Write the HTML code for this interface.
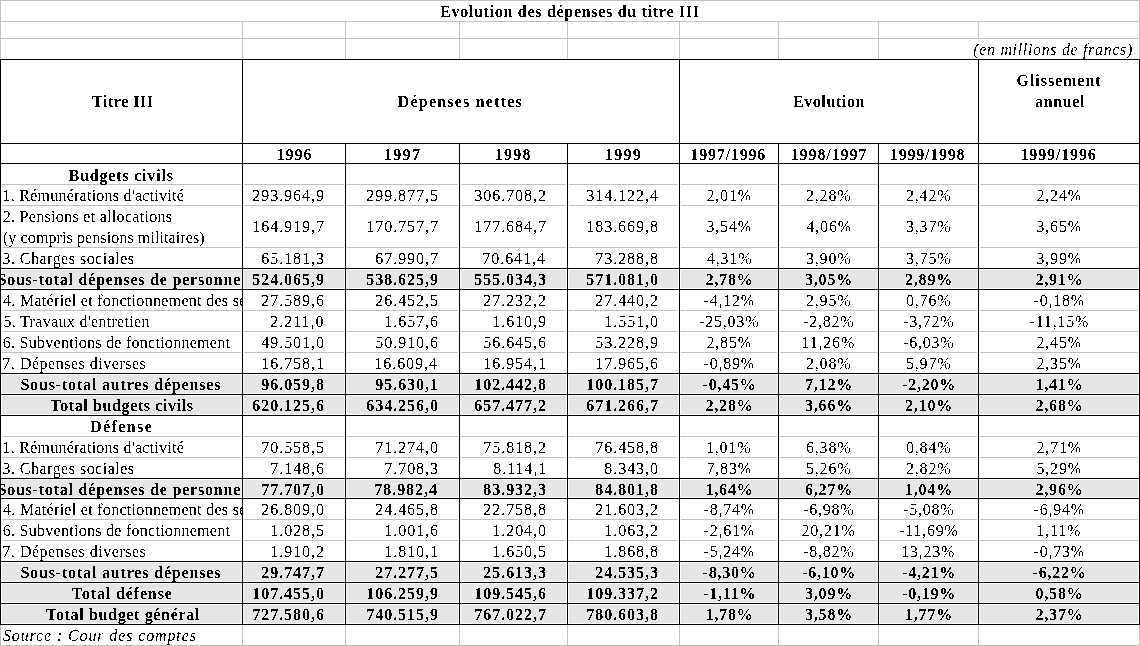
<!DOCTYPE html>
<html><head><meta charset="utf-8"><style>
html,body{margin:0;padding:0;background:#fff;width:1140px;height:646px;overflow:hidden;position:relative}
i{position:absolute;display:block}
.clip{position:absolute;height:20px;overflow:hidden}
.t{position:absolute;display:block;white-space:pre;font-family:"Liberation Serif",serif;font-size:16px;line-height:20px;font-weight:normal;color:#000}
.b{font-weight:bold}
.it{font-style:italic}
.tx{position:absolute;left:0;top:0;width:1140px;height:646px}
</style></head><body>
<svg width="0" height="0" style="position:absolute"><filter id="fr" x="0" y="0" width="100%" height="100%" color-interpolation-filters="sRGB"><feComponentTransfer><feFuncA type="discrete" tableValues="0 1"/></feComponentTransfer></filter><filter id="fb" x="0" y="0" width="100%" height="100%" color-interpolation-filters="sRGB"><feComponentTransfer><feFuncA type="discrete" tableValues="0 1"/></feComponentTransfer></filter></svg>
<i style="left:2px;top:270px;width:239px;height:18px;background:#e6e6e6"></i>
<i style="left:244px;top:270px;width:100px;height:18px;background:#e6e6e6"></i>
<i style="left:347px;top:270px;width:111px;height:18px;background:#e6e6e6"></i>
<i style="left:461px;top:270px;width:105px;height:18px;background:#e6e6e6"></i>
<i style="left:569px;top:270px;width:109px;height:18px;background:#e6e6e6"></i>
<i style="left:681px;top:270px;width:96px;height:18px;background:#e6e6e6"></i>
<i style="left:780px;top:270px;width:97px;height:18px;background:#e6e6e6"></i>
<i style="left:880px;top:270px;width:97px;height:18px;background:#e6e6e6"></i>
<i style="left:980px;top:270px;width:158px;height:18px;background:#e6e6e6"></i>
<i style="left:2px;top:375px;width:239px;height:18px;background:#e6e6e6"></i>
<i style="left:244px;top:375px;width:100px;height:18px;background:#e6e6e6"></i>
<i style="left:347px;top:375px;width:111px;height:18px;background:#e6e6e6"></i>
<i style="left:461px;top:375px;width:105px;height:18px;background:#e6e6e6"></i>
<i style="left:569px;top:375px;width:109px;height:18px;background:#e6e6e6"></i>
<i style="left:681px;top:375px;width:96px;height:18px;background:#e6e6e6"></i>
<i style="left:780px;top:375px;width:97px;height:18px;background:#e6e6e6"></i>
<i style="left:880px;top:375px;width:97px;height:18px;background:#e6e6e6"></i>
<i style="left:980px;top:375px;width:158px;height:18px;background:#e6e6e6"></i>
<i style="left:2px;top:396px;width:239px;height:18px;background:#e6e6e6"></i>
<i style="left:244px;top:396px;width:100px;height:18px;background:#e6e6e6"></i>
<i style="left:347px;top:396px;width:111px;height:18px;background:#e6e6e6"></i>
<i style="left:461px;top:396px;width:105px;height:18px;background:#e6e6e6"></i>
<i style="left:569px;top:396px;width:109px;height:18px;background:#e6e6e6"></i>
<i style="left:681px;top:396px;width:96px;height:18px;background:#e6e6e6"></i>
<i style="left:780px;top:396px;width:97px;height:18px;background:#e6e6e6"></i>
<i style="left:880px;top:396px;width:97px;height:18px;background:#e6e6e6"></i>
<i style="left:980px;top:396px;width:158px;height:18px;background:#e6e6e6"></i>
<i style="left:2px;top:480px;width:239px;height:17px;background:#e6e6e6"></i>
<i style="left:244px;top:480px;width:100px;height:17px;background:#e6e6e6"></i>
<i style="left:347px;top:480px;width:111px;height:17px;background:#e6e6e6"></i>
<i style="left:461px;top:480px;width:105px;height:17px;background:#e6e6e6"></i>
<i style="left:569px;top:480px;width:109px;height:17px;background:#e6e6e6"></i>
<i style="left:681px;top:480px;width:96px;height:17px;background:#e6e6e6"></i>
<i style="left:780px;top:480px;width:97px;height:17px;background:#e6e6e6"></i>
<i style="left:880px;top:480px;width:97px;height:17px;background:#e6e6e6"></i>
<i style="left:980px;top:480px;width:158px;height:17px;background:#e6e6e6"></i>
<i style="left:2px;top:563px;width:239px;height:18px;background:#e6e6e6"></i>
<i style="left:244px;top:563px;width:100px;height:18px;background:#e6e6e6"></i>
<i style="left:347px;top:563px;width:111px;height:18px;background:#e6e6e6"></i>
<i style="left:461px;top:563px;width:105px;height:18px;background:#e6e6e6"></i>
<i style="left:569px;top:563px;width:109px;height:18px;background:#e6e6e6"></i>
<i style="left:681px;top:563px;width:96px;height:18px;background:#e6e6e6"></i>
<i style="left:780px;top:563px;width:97px;height:18px;background:#e6e6e6"></i>
<i style="left:880px;top:563px;width:97px;height:18px;background:#e6e6e6"></i>
<i style="left:980px;top:563px;width:158px;height:18px;background:#e6e6e6"></i>
<i style="left:2px;top:584px;width:239px;height:18px;background:#e6e6e6"></i>
<i style="left:244px;top:584px;width:100px;height:18px;background:#e6e6e6"></i>
<i style="left:347px;top:584px;width:111px;height:18px;background:#e6e6e6"></i>
<i style="left:461px;top:584px;width:105px;height:18px;background:#e6e6e6"></i>
<i style="left:569px;top:584px;width:109px;height:18px;background:#e6e6e6"></i>
<i style="left:681px;top:584px;width:96px;height:18px;background:#e6e6e6"></i>
<i style="left:780px;top:584px;width:97px;height:18px;background:#e6e6e6"></i>
<i style="left:880px;top:584px;width:97px;height:18px;background:#e6e6e6"></i>
<i style="left:980px;top:584px;width:158px;height:18px;background:#e6e6e6"></i>
<i style="left:2px;top:605px;width:239px;height:18px;background:#e6e6e6"></i>
<i style="left:244px;top:605px;width:100px;height:18px;background:#e6e6e6"></i>
<i style="left:347px;top:605px;width:111px;height:18px;background:#e6e6e6"></i>
<i style="left:461px;top:605px;width:105px;height:18px;background:#e6e6e6"></i>
<i style="left:569px;top:605px;width:109px;height:18px;background:#e6e6e6"></i>
<i style="left:681px;top:605px;width:96px;height:18px;background:#e6e6e6"></i>
<i style="left:780px;top:605px;width:97px;height:18px;background:#e6e6e6"></i>
<i style="left:880px;top:605px;width:97px;height:18px;background:#e6e6e6"></i>
<i style="left:980px;top:605px;width:158px;height:18px;background:#e6e6e6"></i>
<i style="left:0px;top:0px;width:1140px;height:1px;background:#c0c0c0"></i>
<i style="left:0px;top:21px;width:1140px;height:1px;background:#c0c0c0"></i>
<i style="left:0px;top:38px;width:1140px;height:1px;background:#c0c0c0"></i>
<i style="left:0px;top:645px;width:1140px;height:1px;background:#c0c0c0"></i>
<i style="left:0px;top:0px;width:1px;height:59px;background:#c0c0c0"></i>
<i style="left:1139px;top:0px;width:1px;height:59px;background:#c0c0c0"></i>
<i style="left:0px;top:624px;width:1px;height:22px;background:#c0c0c0"></i>
<i style="left:1139px;top:624px;width:1px;height:22px;background:#c0c0c0"></i>
<i style="left:242px;top:21px;width:1px;height:17px;background:#c0c0c0"></i>
<i style="left:242px;top:38px;width:1px;height:21px;background:#c0c0c0"></i>
<i style="left:242px;top:624px;width:1px;height:22px;background:#c0c0c0"></i>
<i style="left:345px;top:21px;width:1px;height:17px;background:#c0c0c0"></i>
<i style="left:345px;top:38px;width:1px;height:21px;background:#c0c0c0"></i>
<i style="left:345px;top:624px;width:1px;height:22px;background:#c0c0c0"></i>
<i style="left:459px;top:21px;width:1px;height:17px;background:#c0c0c0"></i>
<i style="left:459px;top:38px;width:1px;height:21px;background:#c0c0c0"></i>
<i style="left:459px;top:624px;width:1px;height:22px;background:#c0c0c0"></i>
<i style="left:567px;top:21px;width:1px;height:17px;background:#c0c0c0"></i>
<i style="left:567px;top:38px;width:1px;height:21px;background:#c0c0c0"></i>
<i style="left:567px;top:624px;width:1px;height:22px;background:#c0c0c0"></i>
<i style="left:679px;top:21px;width:1px;height:17px;background:#c0c0c0"></i>
<i style="left:679px;top:38px;width:1px;height:21px;background:#c0c0c0"></i>
<i style="left:679px;top:624px;width:1px;height:22px;background:#c0c0c0"></i>
<i style="left:778px;top:21px;width:1px;height:17px;background:#c0c0c0"></i>
<i style="left:778px;top:38px;width:1px;height:21px;background:#c0c0c0"></i>
<i style="left:778px;top:624px;width:1px;height:22px;background:#c0c0c0"></i>
<i style="left:878px;top:21px;width:1px;height:17px;background:#c0c0c0"></i>
<i style="left:878px;top:38px;width:1px;height:21px;background:#c0c0c0"></i>
<i style="left:878px;top:624px;width:1px;height:22px;background:#c0c0c0"></i>
<i style="left:978px;top:21px;width:1px;height:17px;background:#c0c0c0"></i>
<i style="left:978px;top:624px;width:1px;height:22px;background:#c0c0c0"></i>
<i style="left:0px;top:59px;width:1140px;height:1px;background:#000"></i>
<i style="left:0px;top:143px;width:1140px;height:1px;background:#000"></i>
<i style="left:0px;top:163px;width:1140px;height:1px;background:#000"></i>
<i style="left:2px;top:184px;width:239px;height:1px;background:#c0c0c0"></i>
<i style="left:244px;top:184px;width:100px;height:1px;background:#c0c0c0"></i>
<i style="left:347px;top:184px;width:111px;height:1px;background:#c0c0c0"></i>
<i style="left:461px;top:184px;width:105px;height:1px;background:#c0c0c0"></i>
<i style="left:569px;top:184px;width:109px;height:1px;background:#c0c0c0"></i>
<i style="left:681px;top:184px;width:96px;height:1px;background:#c0c0c0"></i>
<i style="left:780px;top:184px;width:97px;height:1px;background:#c0c0c0"></i>
<i style="left:880px;top:184px;width:97px;height:1px;background:#c0c0c0"></i>
<i style="left:980px;top:184px;width:158px;height:1px;background:#c0c0c0"></i>
<i style="left:2px;top:205px;width:239px;height:1px;background:#c0c0c0"></i>
<i style="left:244px;top:205px;width:100px;height:1px;background:#c0c0c0"></i>
<i style="left:347px;top:205px;width:111px;height:1px;background:#c0c0c0"></i>
<i style="left:461px;top:205px;width:105px;height:1px;background:#c0c0c0"></i>
<i style="left:569px;top:205px;width:109px;height:1px;background:#c0c0c0"></i>
<i style="left:681px;top:205px;width:96px;height:1px;background:#c0c0c0"></i>
<i style="left:780px;top:205px;width:97px;height:1px;background:#c0c0c0"></i>
<i style="left:880px;top:205px;width:97px;height:1px;background:#c0c0c0"></i>
<i style="left:980px;top:205px;width:158px;height:1px;background:#c0c0c0"></i>
<i style="left:2px;top:247px;width:239px;height:1px;background:#c0c0c0"></i>
<i style="left:244px;top:247px;width:100px;height:1px;background:#c0c0c0"></i>
<i style="left:347px;top:247px;width:111px;height:1px;background:#c0c0c0"></i>
<i style="left:461px;top:247px;width:105px;height:1px;background:#c0c0c0"></i>
<i style="left:569px;top:247px;width:109px;height:1px;background:#c0c0c0"></i>
<i style="left:681px;top:247px;width:96px;height:1px;background:#c0c0c0"></i>
<i style="left:780px;top:247px;width:97px;height:1px;background:#c0c0c0"></i>
<i style="left:880px;top:247px;width:97px;height:1px;background:#c0c0c0"></i>
<i style="left:980px;top:247px;width:158px;height:1px;background:#c0c0c0"></i>
<i style="left:0px;top:268px;width:1140px;height:1px;background:#000"></i>
<i style="left:0px;top:289px;width:1140px;height:1px;background:#000"></i>
<i style="left:2px;top:310px;width:239px;height:1px;background:#c0c0c0"></i>
<i style="left:244px;top:310px;width:100px;height:1px;background:#c0c0c0"></i>
<i style="left:347px;top:310px;width:111px;height:1px;background:#c0c0c0"></i>
<i style="left:461px;top:310px;width:105px;height:1px;background:#c0c0c0"></i>
<i style="left:569px;top:310px;width:109px;height:1px;background:#c0c0c0"></i>
<i style="left:681px;top:310px;width:96px;height:1px;background:#c0c0c0"></i>
<i style="left:780px;top:310px;width:97px;height:1px;background:#c0c0c0"></i>
<i style="left:880px;top:310px;width:97px;height:1px;background:#c0c0c0"></i>
<i style="left:980px;top:310px;width:158px;height:1px;background:#c0c0c0"></i>
<i style="left:2px;top:331px;width:239px;height:1px;background:#c0c0c0"></i>
<i style="left:244px;top:331px;width:100px;height:1px;background:#c0c0c0"></i>
<i style="left:347px;top:331px;width:111px;height:1px;background:#c0c0c0"></i>
<i style="left:461px;top:331px;width:105px;height:1px;background:#c0c0c0"></i>
<i style="left:569px;top:331px;width:109px;height:1px;background:#c0c0c0"></i>
<i style="left:681px;top:331px;width:96px;height:1px;background:#c0c0c0"></i>
<i style="left:780px;top:331px;width:97px;height:1px;background:#c0c0c0"></i>
<i style="left:880px;top:331px;width:97px;height:1px;background:#c0c0c0"></i>
<i style="left:980px;top:331px;width:158px;height:1px;background:#c0c0c0"></i>
<i style="left:2px;top:352px;width:239px;height:1px;background:#c0c0c0"></i>
<i style="left:244px;top:352px;width:100px;height:1px;background:#c0c0c0"></i>
<i style="left:347px;top:352px;width:111px;height:1px;background:#c0c0c0"></i>
<i style="left:461px;top:352px;width:105px;height:1px;background:#c0c0c0"></i>
<i style="left:569px;top:352px;width:109px;height:1px;background:#c0c0c0"></i>
<i style="left:681px;top:352px;width:96px;height:1px;background:#c0c0c0"></i>
<i style="left:780px;top:352px;width:97px;height:1px;background:#c0c0c0"></i>
<i style="left:880px;top:352px;width:97px;height:1px;background:#c0c0c0"></i>
<i style="left:980px;top:352px;width:158px;height:1px;background:#c0c0c0"></i>
<i style="left:0px;top:373px;width:1140px;height:1px;background:#000"></i>
<i style="left:0px;top:394px;width:1140px;height:1px;background:#000"></i>
<i style="left:0px;top:415px;width:1140px;height:1px;background:#000"></i>
<i style="left:2px;top:436px;width:239px;height:1px;background:#c0c0c0"></i>
<i style="left:244px;top:436px;width:100px;height:1px;background:#c0c0c0"></i>
<i style="left:347px;top:436px;width:111px;height:1px;background:#c0c0c0"></i>
<i style="left:461px;top:436px;width:105px;height:1px;background:#c0c0c0"></i>
<i style="left:569px;top:436px;width:109px;height:1px;background:#c0c0c0"></i>
<i style="left:681px;top:436px;width:96px;height:1px;background:#c0c0c0"></i>
<i style="left:780px;top:436px;width:97px;height:1px;background:#c0c0c0"></i>
<i style="left:880px;top:436px;width:97px;height:1px;background:#c0c0c0"></i>
<i style="left:980px;top:436px;width:158px;height:1px;background:#c0c0c0"></i>
<i style="left:2px;top:457px;width:239px;height:1px;background:#c0c0c0"></i>
<i style="left:244px;top:457px;width:100px;height:1px;background:#c0c0c0"></i>
<i style="left:347px;top:457px;width:111px;height:1px;background:#c0c0c0"></i>
<i style="left:461px;top:457px;width:105px;height:1px;background:#c0c0c0"></i>
<i style="left:569px;top:457px;width:109px;height:1px;background:#c0c0c0"></i>
<i style="left:681px;top:457px;width:96px;height:1px;background:#c0c0c0"></i>
<i style="left:780px;top:457px;width:97px;height:1px;background:#c0c0c0"></i>
<i style="left:880px;top:457px;width:97px;height:1px;background:#c0c0c0"></i>
<i style="left:980px;top:457px;width:158px;height:1px;background:#c0c0c0"></i>
<i style="left:0px;top:478px;width:1140px;height:1px;background:#000"></i>
<i style="left:0px;top:498px;width:1140px;height:1px;background:#000"></i>
<i style="left:2px;top:519px;width:239px;height:1px;background:#c0c0c0"></i>
<i style="left:244px;top:519px;width:100px;height:1px;background:#c0c0c0"></i>
<i style="left:347px;top:519px;width:111px;height:1px;background:#c0c0c0"></i>
<i style="left:461px;top:519px;width:105px;height:1px;background:#c0c0c0"></i>
<i style="left:569px;top:519px;width:109px;height:1px;background:#c0c0c0"></i>
<i style="left:681px;top:519px;width:96px;height:1px;background:#c0c0c0"></i>
<i style="left:780px;top:519px;width:97px;height:1px;background:#c0c0c0"></i>
<i style="left:880px;top:519px;width:97px;height:1px;background:#c0c0c0"></i>
<i style="left:980px;top:519px;width:158px;height:1px;background:#c0c0c0"></i>
<i style="left:2px;top:540px;width:239px;height:1px;background:#c0c0c0"></i>
<i style="left:244px;top:540px;width:100px;height:1px;background:#c0c0c0"></i>
<i style="left:347px;top:540px;width:111px;height:1px;background:#c0c0c0"></i>
<i style="left:461px;top:540px;width:105px;height:1px;background:#c0c0c0"></i>
<i style="left:569px;top:540px;width:109px;height:1px;background:#c0c0c0"></i>
<i style="left:681px;top:540px;width:96px;height:1px;background:#c0c0c0"></i>
<i style="left:780px;top:540px;width:97px;height:1px;background:#c0c0c0"></i>
<i style="left:880px;top:540px;width:97px;height:1px;background:#c0c0c0"></i>
<i style="left:980px;top:540px;width:158px;height:1px;background:#c0c0c0"></i>
<i style="left:0px;top:561px;width:1140px;height:1px;background:#000"></i>
<i style="left:0px;top:582px;width:1140px;height:1px;background:#000"></i>
<i style="left:0px;top:603px;width:1140px;height:1px;background:#000"></i>
<i style="left:0px;top:624px;width:1140px;height:1px;background:#000"></i>
<i style="left:0px;top:59px;width:1px;height:566px;background:#000"></i>
<i style="left:242px;top:59px;width:1px;height:566px;background:#000"></i>
<i style="left:679px;top:59px;width:1px;height:566px;background:#000"></i>
<i style="left:978px;top:59px;width:1px;height:566px;background:#000"></i>
<i style="left:1139px;top:59px;width:1px;height:566px;background:#000"></i>
<i style="left:345px;top:143px;width:1px;height:482px;background:#000"></i>
<i style="left:459px;top:143px;width:1px;height:482px;background:#000"></i>
<i style="left:567px;top:143px;width:1px;height:482px;background:#000"></i>
<i style="left:778px;top:143px;width:1px;height:482px;background:#000"></i>
<i style="left:878px;top:143px;width:1px;height:482px;background:#000"></i>
<div class="tx" style="filter:url(#fr)">
<b class="t it" style="left:973.30px;top:40px;letter-spacing:0.664px">(en millions de francs)</b>
<b class="t" style="left:2.50px;top:186px;letter-spacing:0.246px">1. Rémunérations d'activité</b>
<b class="t" style="left:252.30px;top:186px;letter-spacing:0.95px">293.964,9</b>
<b class="t" style="left:366.30px;top:186px;letter-spacing:0.95px">299.877,5</b>
<b class="t" style="left:474.30px;top:186px;letter-spacing:0.95px">306.708,2</b>
<b class="t" style="left:586.30px;top:186px;letter-spacing:0.95px">314.122,4</b>
<b class="t" style="left:706.50px;top:186px;letter-spacing:0.8px">2,01%</b>
<b class="t" style="left:806.00px;top:186px;letter-spacing:0.8px">2,28%</b>
<b class="t" style="left:906.00px;top:186px;letter-spacing:0.8px">2,42%</b>
<b class="t" style="left:1036.50px;top:186px;letter-spacing:0.8px">2,24%</b>
<b class="t" style="left:2.70px;top:207px;letter-spacing:0.304px">2. Pensions et allocations</b>
<b class="t" style="left:2.95px;top:228px;letter-spacing:0.103px">(y compris pensions militaires)</b>
<b class="t" style="left:252.30px;top:217px;letter-spacing:0.95px">164.919,7</b>
<b class="t" style="left:366.30px;top:217px;letter-spacing:0.95px">170.757,7</b>
<b class="t" style="left:474.30px;top:217px;letter-spacing:0.95px">177.684,7</b>
<b class="t" style="left:586.30px;top:217px;letter-spacing:0.95px">183.669,8</b>
<b class="t" style="left:706.50px;top:217px;letter-spacing:0.8px">3,54%</b>
<b class="t" style="left:806.50px;top:217px;letter-spacing:0.8px">4,06%</b>
<b class="t" style="left:906.00px;top:217px;letter-spacing:0.8px">3,37%</b>
<b class="t" style="left:1036.50px;top:217px;letter-spacing:0.8px">3,65%</b>
<b class="t" style="left:2.40px;top:249px;letter-spacing:0.489px">3. Charges sociales</b>
<b class="t" style="left:261.30px;top:249px;letter-spacing:0.95px">65.181,3</b>
<b class="t" style="left:375.30px;top:249px;letter-spacing:0.95px">67.990,7</b>
<b class="t" style="left:482.30px;top:249px;letter-spacing:0.95px">70.641,4</b>
<b class="t" style="left:595.30px;top:249px;letter-spacing:0.95px">73.288,8</b>
<b class="t" style="left:707.00px;top:249px;letter-spacing:0.8px">4,31%</b>
<b class="t" style="left:806.00px;top:249px;letter-spacing:0.8px">3,90%</b>
<b class="t" style="left:906.00px;top:249px;letter-spacing:0.8px">3,75%</b>
<b class="t" style="left:1036.50px;top:249px;letter-spacing:0.8px">3,99%</b>
<div class="clip" style="left:1px;top:291px;width:241px"><b class="t" style="left:2.05px;top:0;letter-spacing:0.297px">4. Matériel et fonctionnement des services</b></div>
<b class="t" style="left:261.30px;top:291px;letter-spacing:0.95px">27.589,6</b>
<b class="t" style="left:375.30px;top:291px;letter-spacing:0.95px">26.452,5</b>
<b class="t" style="left:483.30px;top:291px;letter-spacing:0.95px">27.232,2</b>
<b class="t" style="left:595.30px;top:291px;letter-spacing:0.95px">27.440,2</b>
<b class="t" style="left:703.50px;top:291px;letter-spacing:0.8px">-4,12%</b>
<b class="t" style="left:806.00px;top:291px;letter-spacing:0.8px">2,95%</b>
<b class="t" style="left:906.00px;top:291px;letter-spacing:0.8px">0,76%</b>
<b class="t" style="left:1033.50px;top:291px;letter-spacing:0.8px">-0,18%</b>
<b class="t" style="left:3.40px;top:312px;letter-spacing:0.324px">5. Travaux d'entretien</b>
<b class="t" style="left:270.30px;top:312px;letter-spacing:0.95px">2.211,0</b>
<b class="t" style="left:384.30px;top:312px;letter-spacing:0.95px">1.657,6</b>
<b class="t" style="left:492.30px;top:312px;letter-spacing:0.95px">1.610,9</b>
<b class="t" style="left:604.30px;top:312px;letter-spacing:0.95px">1.551,0</b>
<b class="t" style="left:699.00px;top:312px;letter-spacing:0.8px">-25,03%</b>
<b class="t" style="left:803.00px;top:312px;letter-spacing:0.8px">-2,82%</b>
<b class="t" style="left:903.00px;top:312px;letter-spacing:0.8px">-3,72%</b>
<b class="t" style="left:1029.50px;top:312px;letter-spacing:0.8px">-11,15%</b>
<b class="t" style="left:2.75px;top:333px;letter-spacing:0.274px">6. Subventions de fonctionnement</b>
<b class="t" style="left:261.30px;top:333px;letter-spacing:0.95px">49.501,0</b>
<b class="t" style="left:375.30px;top:333px;letter-spacing:0.95px">50.910,6</b>
<b class="t" style="left:483.30px;top:333px;letter-spacing:0.95px">56.645,6</b>
<b class="t" style="left:595.30px;top:333px;letter-spacing:0.95px">53.228,9</b>
<b class="t" style="left:706.50px;top:333px;letter-spacing:0.8px">2,85%</b>
<b class="t" style="left:801.50px;top:333px;letter-spacing:0.8px">11,26%</b>
<b class="t" style="left:903.00px;top:333px;letter-spacing:0.8px">-6,03%</b>
<b class="t" style="left:1036.50px;top:333px;letter-spacing:0.8px">2,45%</b>
<b class="t" style="left:2.35px;top:354px;letter-spacing:0.511px">7. Dépenses diverses</b>
<b class="t" style="left:261.30px;top:354px;letter-spacing:0.95px">16.758,1</b>
<b class="t" style="left:374.30px;top:354px;letter-spacing:0.95px">16.609,4</b>
<b class="t" style="left:483.30px;top:354px;letter-spacing:0.95px">16.954,1</b>
<b class="t" style="left:595.30px;top:354px;letter-spacing:0.95px">17.965,6</b>
<b class="t" style="left:703.50px;top:354px;letter-spacing:0.8px">-0,89%</b>
<b class="t" style="left:806.00px;top:354px;letter-spacing:0.8px">2,08%</b>
<b class="t" style="left:906.00px;top:354px;letter-spacing:0.8px">5,97%</b>
<b class="t" style="left:1036.50px;top:354px;letter-spacing:0.8px">2,35%</b>
<b class="t" style="left:2.50px;top:438px;letter-spacing:0.246px">1. Rémunérations d'activité</b>
<b class="t" style="left:261.30px;top:438px;letter-spacing:0.95px">70.558,5</b>
<b class="t" style="left:375.30px;top:438px;letter-spacing:0.95px">71.274,0</b>
<b class="t" style="left:483.30px;top:438px;letter-spacing:0.95px">75.818,2</b>
<b class="t" style="left:595.30px;top:438px;letter-spacing:0.95px">76.458,8</b>
<b class="t" style="left:706.00px;top:438px;letter-spacing:0.8px">1,01%</b>
<b class="t" style="left:806.00px;top:438px;letter-spacing:0.8px">6,38%</b>
<b class="t" style="left:906.00px;top:438px;letter-spacing:0.8px">0,84%</b>
<b class="t" style="left:1036.50px;top:438px;letter-spacing:0.8px">2,71%</b>
<b class="t" style="left:2.40px;top:459px;letter-spacing:0.489px">3. Charges sociales</b>
<b class="t" style="left:270.30px;top:459px;letter-spacing:0.95px">7.148,6</b>
<b class="t" style="left:384.30px;top:459px;letter-spacing:0.95px">7.708,3</b>
<b class="t" style="left:493.30px;top:459px;letter-spacing:0.95px">8.114,1</b>
<b class="t" style="left:604.30px;top:459px;letter-spacing:0.95px">8.343,0</b>
<b class="t" style="left:706.50px;top:459px;letter-spacing:0.8px">7,83%</b>
<b class="t" style="left:806.00px;top:459px;letter-spacing:0.8px">5,26%</b>
<b class="t" style="left:906.00px;top:459px;letter-spacing:0.8px">2,82%</b>
<b class="t" style="left:1036.50px;top:459px;letter-spacing:0.8px">5,29%</b>
<div class="clip" style="left:1px;top:500px;width:241px"><b class="t" style="left:2.05px;top:0;letter-spacing:0.297px">4. Matériel et fonctionnement des services</b></div>
<b class="t" style="left:261.30px;top:500px;letter-spacing:0.95px">26.809,0</b>
<b class="t" style="left:375.30px;top:500px;letter-spacing:0.95px">24.465,8</b>
<b class="t" style="left:483.30px;top:500px;letter-spacing:0.95px">22.758,8</b>
<b class="t" style="left:595.30px;top:500px;letter-spacing:0.95px">21.603,2</b>
<b class="t" style="left:703.50px;top:500px;letter-spacing:0.8px">-8,74%</b>
<b class="t" style="left:803.00px;top:500px;letter-spacing:0.8px">-6,98%</b>
<b class="t" style="left:903.00px;top:500px;letter-spacing:0.8px">-5,08%</b>
<b class="t" style="left:1033.50px;top:500px;letter-spacing:0.8px">-6,94%</b>
<b class="t" style="left:2.75px;top:521px;letter-spacing:0.274px">6. Subventions de fonctionnement</b>
<b class="t" style="left:270.30px;top:521px;letter-spacing:0.95px">1.028,5</b>
<b class="t" style="left:384.30px;top:521px;letter-spacing:0.95px">1.001,6</b>
<b class="t" style="left:492.30px;top:521px;letter-spacing:0.95px">1.204,0</b>
<b class="t" style="left:604.30px;top:521px;letter-spacing:0.95px">1.063,2</b>
<b class="t" style="left:703.50px;top:521px;letter-spacing:0.8px">-2,61%</b>
<b class="t" style="left:801.50px;top:521px;letter-spacing:0.8px">20,21%</b>
<b class="t" style="left:899.00px;top:521px;letter-spacing:0.8px">-11,69%</b>
<b class="t" style="left:1036.50px;top:521px;letter-spacing:0.8px">1,11%</b>
<b class="t" style="left:2.35px;top:542px;letter-spacing:0.511px">7. Dépenses diverses</b>
<b class="t" style="left:270.30px;top:542px;letter-spacing:0.95px">1.910,2</b>
<b class="t" style="left:384.30px;top:542px;letter-spacing:0.95px">1.810,1</b>
<b class="t" style="left:492.30px;top:542px;letter-spacing:0.95px">1.650,5</b>
<b class="t" style="left:604.30px;top:542px;letter-spacing:0.95px">1.868,8</b>
<b class="t" style="left:703.50px;top:542px;letter-spacing:0.8px">-5,24%</b>
<b class="t" style="left:803.00px;top:542px;letter-spacing:0.8px">-8,82%</b>
<b class="t" style="left:901.00px;top:542px;letter-spacing:0.8px">13,23%</b>
<b class="t" style="left:1033.50px;top:542px;letter-spacing:0.8px">-0,73%</b>
<b class="t it" style="left:2.95px;top:626px;letter-spacing:0.879px">Source : Cour des comptes</b>
</div>
<div class="tx" style="filter:url(#fb)">
<b class="t b" style="left:440.05px;top:2px;letter-spacing:0.709px">Evolution des dépenses du titre III</b>
<b class="t b" style="left:92.05px;top:92px;letter-spacing:0.537px">Titre III</b>
<b class="t b" style="left:397.75px;top:92px;letter-spacing:1.207px">Dépenses nettes</b>
<b class="t b" style="left:792.90px;top:92px;letter-spacing:0.6px">Evolution</b>
<b class="t b" style="left:1016.60px;top:71px;letter-spacing:0.933px">Glissement</b>
<b class="t b" style="left:1035.00px;top:92px;letter-spacing:0.64px">annuel</b>
<b class="t b" style="left:276.40px;top:145px;letter-spacing:1.067px">1996</b>
<b class="t b" style="left:383.90px;top:145px;letter-spacing:1.333px">1997</b>
<b class="t b" style="left:494.80px;top:145px;letter-spacing:1.2px">1998</b>
<b class="t b" style="left:605.10px;top:145px;letter-spacing:1.2px">1999</b>
<b class="t b" style="left:690.35px;top:145px;letter-spacing:0.812px">1997/1996</b>
<b class="t b" style="left:790.70px;top:145px;letter-spacing:0.9px">1998/1997</b>
<b class="t b" style="left:889.90px;top:145px;letter-spacing:0.775px">1999/1998</b>
<b class="t b" style="left:1020.50px;top:145px;letter-spacing:0.85px">1999/1996</b>
<b class="t b" style="left:68.70px;top:166px;letter-spacing:0.8px">Budgets civils</b>
<div class="clip" style="left:1px;top:270px;width:240px"><b class="t b" style="left:-3.55px;top:0;letter-spacing:0.79px">Sous-total dépenses de personnel</b></div>
<b class="t b" style="left:252.30px;top:270px;letter-spacing:0.95px">524.065,9</b>
<b class="t b" style="left:366.30px;top:270px;letter-spacing:0.95px">538.625,9</b>
<b class="t b" style="left:474.30px;top:270px;letter-spacing:0.95px">555.034,3</b>
<b class="t b" style="left:586.30px;top:270px;letter-spacing:0.95px">571.081,0</b>
<b class="t b" style="left:705.50px;top:270px;letter-spacing:0.8px">2,78%</b>
<b class="t b" style="left:805.00px;top:270px;letter-spacing:0.8px">3,05%</b>
<b class="t b" style="left:905.00px;top:270px;letter-spacing:0.8px">2,89%</b>
<b class="t b" style="left:1035.50px;top:270px;letter-spacing:0.8px">2,91%</b>
<b class="t b" style="left:20.40px;top:375px;letter-spacing:0.832px">Sous-total autres dépenses</b>
<b class="t b" style="left:261.30px;top:375px;letter-spacing:0.95px">96.059,8</b>
<b class="t b" style="left:375.30px;top:375px;letter-spacing:0.95px">95.630,1</b>
<b class="t b" style="left:474.30px;top:375px;letter-spacing:0.95px">102.442,8</b>
<b class="t b" style="left:586.30px;top:375px;letter-spacing:0.95px">100.185,7</b>
<b class="t b" style="left:702.50px;top:375px;letter-spacing:0.8px">-0,45%</b>
<b class="t b" style="left:805.00px;top:375px;letter-spacing:0.8px">7,12%</b>
<b class="t b" style="left:902.00px;top:375px;letter-spacing:0.8px">-2,20%</b>
<b class="t b" style="left:1035.50px;top:375px;letter-spacing:0.8px">1,41%</b>
<b class="t b" style="left:50.35px;top:396px;letter-spacing:0.616px">Total budgets civils</b>
<b class="t b" style="left:252.30px;top:396px;letter-spacing:0.95px">620.125,6</b>
<b class="t b" style="left:366.30px;top:396px;letter-spacing:0.95px">634.256,0</b>
<b class="t b" style="left:474.30px;top:396px;letter-spacing:0.95px">657.477,2</b>
<b class="t b" style="left:586.30px;top:396px;letter-spacing:0.95px">671.266,7</b>
<b class="t b" style="left:705.50px;top:396px;letter-spacing:0.8px">2,28%</b>
<b class="t b" style="left:805.00px;top:396px;letter-spacing:0.8px">3,66%</b>
<b class="t b" style="left:905.00px;top:396px;letter-spacing:0.8px">2,10%</b>
<b class="t b" style="left:1035.50px;top:396px;letter-spacing:0.8px">2,68%</b>
<b class="t b" style="left:90.15px;top:417px;letter-spacing:1.383px">Défense</b>
<div class="clip" style="left:1px;top:480px;width:240px"><b class="t b" style="left:-3.55px;top:0;letter-spacing:0.79px">Sous-total dépenses de personnel</b></div>
<b class="t b" style="left:261.30px;top:480px;letter-spacing:0.95px">77.707,0</b>
<b class="t b" style="left:374.30px;top:480px;letter-spacing:0.95px">78.982,4</b>
<b class="t b" style="left:483.30px;top:480px;letter-spacing:0.95px">83.932,3</b>
<b class="t b" style="left:595.30px;top:480px;letter-spacing:0.95px">84.801,8</b>
<b class="t b" style="left:705.50px;top:480px;letter-spacing:0.8px">1,64%</b>
<b class="t b" style="left:805.00px;top:480px;letter-spacing:0.8px">6,27%</b>
<b class="t b" style="left:905.00px;top:480px;letter-spacing:0.8px">1,04%</b>
<b class="t b" style="left:1035.50px;top:480px;letter-spacing:0.8px">2,96%</b>
<b class="t b" style="left:20.40px;top:563px;letter-spacing:0.832px">Sous-total autres dépenses</b>
<b class="t b" style="left:261.30px;top:563px;letter-spacing:0.95px">29.747,7</b>
<b class="t b" style="left:375.30px;top:563px;letter-spacing:0.95px">27.277,5</b>
<b class="t b" style="left:483.30px;top:563px;letter-spacing:0.95px">25.613,3</b>
<b class="t b" style="left:595.30px;top:563px;letter-spacing:0.95px">24.535,3</b>
<b class="t b" style="left:702.50px;top:563px;letter-spacing:0.8px">-8,30%</b>
<b class="t b" style="left:802.00px;top:563px;letter-spacing:0.8px">-6,10%</b>
<b class="t b" style="left:902.00px;top:563px;letter-spacing:0.8px">-4,21%</b>
<b class="t b" style="left:1032.50px;top:563px;letter-spacing:0.8px">-6,22%</b>
<b class="t b" style="left:71.80px;top:584px;letter-spacing:0.867px">Total défense</b>
<b class="t b" style="left:252.30px;top:584px;letter-spacing:0.95px">107.455,0</b>
<b class="t b" style="left:366.30px;top:584px;letter-spacing:0.95px">106.259,9</b>
<b class="t b" style="left:474.30px;top:584px;letter-spacing:0.95px">109.545,6</b>
<b class="t b" style="left:586.30px;top:584px;letter-spacing:0.95px">109.337,2</b>
<b class="t b" style="left:703.00px;top:584px;letter-spacing:0.8px">-1,11%</b>
<b class="t b" style="left:805.00px;top:584px;letter-spacing:0.8px">3,09%</b>
<b class="t b" style="left:902.00px;top:584px;letter-spacing:0.8px">-0,19%</b>
<b class="t b" style="left:1035.50px;top:584px;letter-spacing:0.8px">0,58%</b>
<b class="t b" style="left:46.05px;top:605px;letter-spacing:0.658px">Total budget général</b>
<b class="t b" style="left:252.30px;top:605px;letter-spacing:0.95px">727.580,6</b>
<b class="t b" style="left:366.30px;top:605px;letter-spacing:0.95px">740.515,9</b>
<b class="t b" style="left:474.30px;top:605px;letter-spacing:0.95px">767.022,7</b>
<b class="t b" style="left:586.30px;top:605px;letter-spacing:0.95px">780.603,8</b>
<b class="t b" style="left:705.50px;top:605px;letter-spacing:0.8px">1,78%</b>
<b class="t b" style="left:805.00px;top:605px;letter-spacing:0.8px">3,58%</b>
<b class="t b" style="left:905.00px;top:605px;letter-spacing:0.8px">1,77%</b>
<b class="t b" style="left:1035.50px;top:605px;letter-spacing:0.8px">2,37%</b>
</div>
</body></html>
